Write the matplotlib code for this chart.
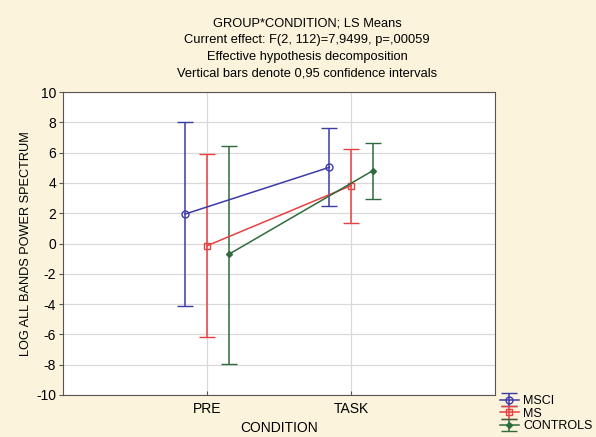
import matplotlib.pyplot as plt
import numpy as np

plt.rcParams["font.family"] = ["Liberation Sans", "DejaVu Sans"]
plt.rcParams["axes.unicode_minus"] = False

conditions = ["PRE", "TASK"]
groups = ["MSCI", "MS", "CONTROLS"]

msci_mean = [1.95, 5.03]
msci_low = [-4.1, 2.46]
msci_high = [8.05, 7.6]

ms_mean = [-0.15, 3.82]
ms_low = [-6.17, 1.35]
ms_high = [5.9, 6.27]

ctrl_mean = [-0.72, 4.8]
ctrl_low = [-7.93, 2.97]
ctrl_high = [6.46, 6.62]

colors = ["#3b3ba8", "#e84040", "#2f6b3c"]
markers = ["o", "s", "D"]
msizes = [5, 5, 3]
offsets = [-0.15, 0.0, 0.15]

bg = "#fbf3dc"
fig = plt.figure(figsize=(5.96, 4.37), dpi=100, facecolor=bg)
ax = fig.add_axes([63 / 596, 1 - 395 / 437, (495 - 63) / 596, (395 - 92) / 437])
ax.set_facecolor("white")

means = [msci_mean, ms_mean, ctrl_mean]
lows = [msci_low, ms_low, ctrl_low]
highs = [msci_high, ms_high, ctrl_high]

x = np.arange(1, len(conditions) + 1)
handles = []
for i, g in enumerate(groups):
    m = np.array(means[i])
    err = np.vstack([m - np.array(lows[i]), np.array(highs[i]) - m])
    h = ax.errorbar(x + offsets[i], m, yerr=err, color=colors[i], lw=1.1,
                    marker=markers[i], ms=msizes[i], mfc="none" if i < 2 else colors[i],
                    mew=1.0, capsize=5.5, capthick=1.1, elinewidth=1.1, label=g)
    handles.append(h)

ax.set_xlim(0, 3)
ax.set_ylim(-10, 10)
ax.set_xticks(x)
ax.set_xticklabels(conditions)
ax.set_yticks(np.arange(-10, 11, 2))
ax.grid(True, color="#dcd8d8", lw=0.9)
ax.set_axisbelow(True)
for s in ax.spines.values():
    s.set_color("#555555")
ax.tick_params(axis="y", direction="out", length=3, labelsize=10, color="#555555", pad=2)
ax.tick_params(axis="x", direction="in", length=3, labelsize=10, color="#555555", pad=5)

ax.set_xlabel("CONDITION", fontsize=10, labelpad=4)
ax.set_ylabel("LOG ALL BANDS POWER SPECTRUM", fontsize=9.2, labelpad=1)
ax.yaxis.set_label_coords(-31 / 432, 0.5)

title_lines = ["GROUP*CONDITION; LS Means",
               "Current effect: F(2, 112)=7,9499, p=,00059",
               "Effective hypothesis decomposition",
               "Vertical bars denote 0,95 confidence intervals"]
for k, t in enumerate(title_lines):
    fig.text(307 / 596, 1 - (23 + 17 * k) / 437, t, ha="center", va="center", fontsize=9.3)

fig.legend(handles, groups, loc="upper left", bbox_to_anchor=(500 / 596, 1 - 395 / 437),
           frameon=False, fontsize=9, handlelength=1.5, handletextpad=0.35,
           labelspacing=0.05, borderaxespad=0, borderpad=0)

fig.savefig("out.png", dpi=100, facecolor=bg)
